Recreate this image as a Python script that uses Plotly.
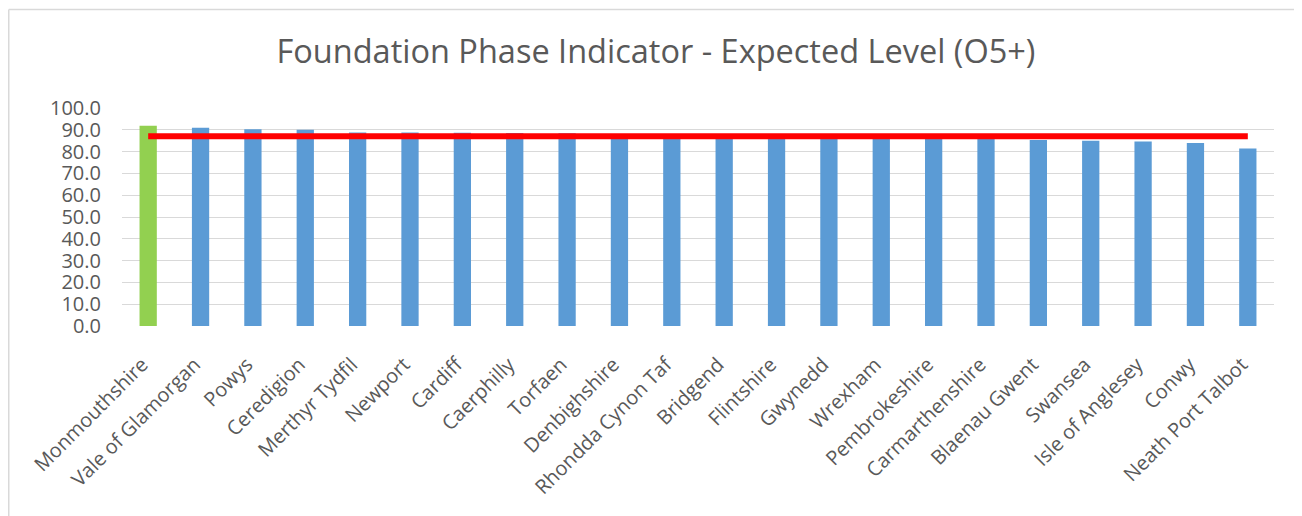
import plotly.graph_objects as go

categories = ["Monmouthshire", "Vale of Glamorgan", "Powys", "Ceredigion", "Merthyr Tydfil",
              "Newport", "Cardiff", "Caerphilly", "Torfaen", "Denbighshire",
              "Rhondda Cynon Taf", "Bridgend", "Flintshire", "Gwynedd", "Wrexham",
              "Pembrokeshire", "Carmarthenshire", "Blaenau Gwent", "Swansea",
              "Isle of Anglesey", "Conwy", "Neath Port Talbot"]
values = [91.9, 90.9, 90.2, 90.0, 88.8, 88.8, 88.6, 88.5, 88.4, 88.0,
          87.8, 87.6, 87.4, 87.2, 87.0, 86.8, 86.5, 85.3, 85.0, 84.6, 84.0, 81.4]
wales_average = [87.0] * len(categories)
highlight = "Monmouthshire"
y_ticks = [0, 10, 20, 30, 40, 50, 60, 70, 80, 90, 100]

W, H = 1302, 516
# page body has an 8px margin, so figure coords = screen coords - 8
ml, mr, mt, mb = 114, 36, 100, 198

bar_colors = ["#92D050" if c == highlight else "#5B9BD5" for c in categories]

fig = go.Figure()
fig.add_trace(go.Bar(x=categories, y=values, marker=dict(color=bar_colors, line=dict(width=0)),
                     width=0.33, showlegend=False, hoverinfo="x+y"))
fig.add_trace(go.Scatter(x=categories, y=wales_average, mode="lines",
                         line=dict(color="#FF0000", width=6), showlegend=False))

font_color = "#595959"
fig.update_layout(
    width=W, height=H,
    margin=dict(l=ml, r=mr, t=mt, b=mb, autoexpand=False),
    paper_bgcolor="white", plot_bgcolor="white",
    font=dict(family="Open Sans", color=font_color),
    title=dict(text="Foundation Phase Indicator - Expected Level (O5+)",
               font=dict(size=32.5, color=font_color, family="Open Sans"),
               x=648 / W, xref="container", xanchor="center",
               y=1 - 44 / H, yref="container", yanchor="middle"),
    bargap=0.67,
)
fig.update_yaxes(range=[0, 100], tickvals=y_ticks,
                 ticktext=[f"{v:.1f}" for v in y_ticks],
                 tickfont=dict(size=20, color=font_color),
                 showgrid=True, gridcolor="#D9D9D9", gridwidth=1,
                 zeroline=False, showline=False, ticks="", ticklabelstandoff=20,
                 automargin=False)
fig.update_xaxes(tickangle=-45, tickfont=dict(size=20, color=font_color),
                 showgrid=False, showline=False, ticks="",
                 ticklabelstandoff=22, ticklabelshift=-6, automargin=False)

# outer chart border (left and top visible)
pw = W - ml - mr
ph = H - mt - mb
bx = (0.75 - ml) / pw
by = (H - mb - 1.5) / ph
fig.add_shape(type="line", xref="paper", yref="paper", x0=bx, x1=bx, y0=by, y1=-10,
              line=dict(color="#D9D9D9", width=1.5))
fig.add_shape(type="line", xref="paper", yref="paper", x0=bx, x1=10, y0=by, y1=by,
              line=dict(color="#D9D9D9", width=1.5))

fig.write_html("out.html")
